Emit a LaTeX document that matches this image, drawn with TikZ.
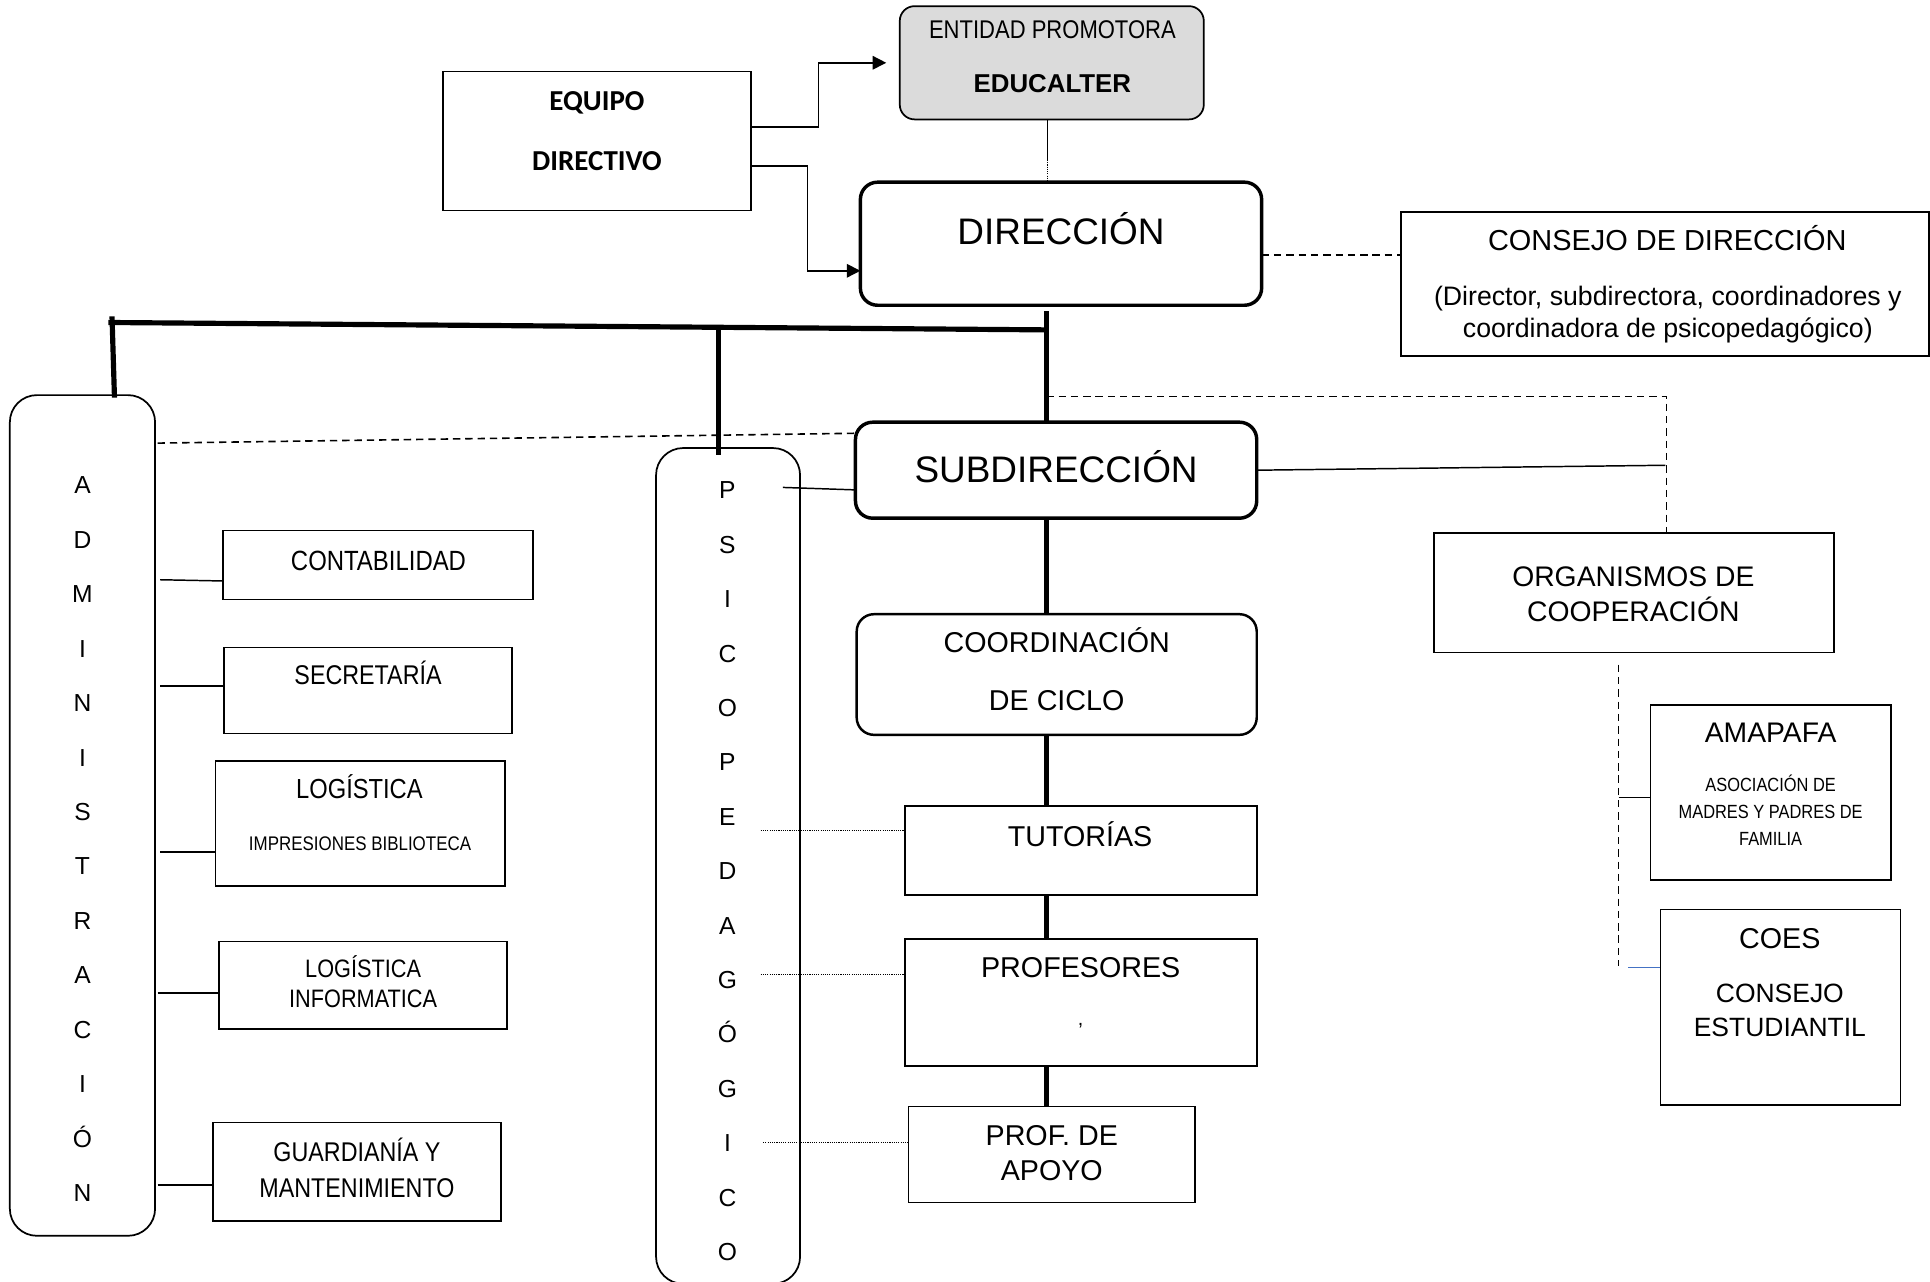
\documentclass[tikz,border=0pt]{standalone}
\usepackage{fontspec}
\setmainfont{Liberation Sans}
\newfontfamily\narfont[FakeStretch=0.86]{Liberation Sans}
\newfontfamily\calfont{Carlito}
\usetikzlibrary{arrows.meta,calc}
\newcommand\fsz[1]{\fontsize{#1}{#1}\selectfont}
\definecolor{blueline}{HTML}{4472C4}
\begin{document}
\begin{tikzpicture}[x=1pt,y=-1pt,
 box/.style={draw,line width=1.4pt,inner sep=0pt,outer sep=0pt},
 rbox/.style={box,rounded corners=#1},
 thickbox/.style={draw,line width=2.8pt,rounded corners=14pt,inner sep=0pt,outer sep=0pt},
 txt/.style={inner sep=0pt,outer sep=0pt,anchor=base},
 link/.style={line width=1.2pt},
 bus/.style={line width=4.2pt},
 dline/.style={line width=1.3pt,dash pattern=on 6pt off 4pt},
 dotline/.style={line width=1pt,dash pattern=on 0.9pt off 0.9pt},
 arr/.style={line width=1.2pt,-{Triangle[length=11pt,width=11pt]}}
]
\useasboundingbox (0,0) rectangle (1568,1041);

% ---------- boxes ----------
\node[box,minimum width=250pt,minimum height=113pt] (equipo) at (485,114.5) {};
\node[rbox=12pt,fill=gray!28,minimum width=247pt,minimum height=92pt] (entidad) at (854.5,51) {};
\node[thickbox,minimum width=326pt,minimum height=100pt] (direccion) at (862,198) {};
\node[box,minimum width=429pt,minimum height=117pt] (consejo) at (1352.5,230.5) {};
\node[rbox=22pt,minimum width=118pt,minimum height=683pt] (admin) at (67,662.5) {};
\node[rbox=22pt,minimum width=117pt,minimum height=679pt] (psico) at (591.5,703.5) {};
\node[thickbox,minimum width=326pt,minimum height=78pt] (subdir) at (858,382) {};
\node[box,line width=2pt,rounded corners=14pt,minimum width=325pt,minimum height=98pt] (coord) at (858.5,548) {};
\node[box,minimum width=286pt,minimum height=72pt] (tut) at (878,691) {};
\node[box,minimum width=286pt,minimum height=103pt] (prof) at (878,814.5) {};
\node[box,minimum width=233pt,minimum height=78pt] (apoyo) at (854.5,938) {};
\node[box,minimum width=325pt,minimum height=97pt] (org) at (1327.5,481.5) {};
\node[box,minimum width=195pt,minimum height=142pt] (amapafa) at (1438.5,644) {};
\node[box,minimum width=195pt,minimum height=159pt] (coes) at (1446.5,818.5) {};
\node[box,minimum width=252pt,minimum height=56pt] (cont) at (307,459) {};
\node[box,minimum width=234pt,minimum height=70pt] (secr) at (299,561) {};
\node[box,minimum width=235pt,minimum height=102pt] (logA) at (292.5,669) {};
\node[box,minimum width=234pt,minimum height=71pt] (logB) at (295,800.5) {};
\node[box,minimum width=234pt,minimum height=80pt] (guard) at (290,952) {};

% ---------- texts ----------
\node[txt,font=\calfont\bfseries\fsz{23.5}] (equipoT1) at (485,89.6) {EQUIPO};
\node[txt,font=\calfont\bfseries\fsz{23.5}] (equipoT2) at (485,138.6) {DIRECTIVO};
\node[txt,font=\narfont\fsz{20.8}] (entidadT1) at (855,31.3) {ENTIDAD PROMOTORA};
\node[txt,font=\bfseries\fsz{21}] (entidadT2) at (855,75.5) {EDUCALTER};
\node[txt,font=\fsz{30}] (direccionT) at (862,199) {DIRECCIÓN};
\node[txt,font=\fsz{23.5}] (consejoT1) at (1354.5,203.4) {CONSEJO DE DIRECCIÓN};
\node[txt,font=\fsz{21.7}] (consejoT2) at (1355,248.5) {(Director, subdirectora, coordinadores y};
\node[txt,font=\fsz{21.7}] (consejoT3) at (1355,274.5) {coordinadora de psicopedagógico)};
\node[txt,font=\fsz{30}] (subdirT) at (858,391.7) {SUBDIRECCIÓN};
\node[txt,font=\fsz{23.3}] (coordT1) at (858.5,530.4) {COORDINACIÓN};
\node[txt,font=\fsz{23.3}] (coordT2) at (858.5,577.4) {DE CICLO};
\node[txt,font=\fsz{23.3}] (tutT) at (877.5,687.4) {TUTORÍAS};
\node[txt,font=\fsz{23.3}] (profT) at (878,794.4) {PROFESORES};
\node[txt,font=\fsz{16}] (profC) at (878,833) {,};
\node[txt,font=\fsz{23.3}] (apoyoT1) at (854.5,930.4) {PROF. DE};
\node[txt,font=\fsz{23.3}] (apoyoT2) at (854.5,959.4) {APOYO};
\node[txt,font=\fsz{23}] (orgT1) at (1327,476.2) {ORGANISMOS DE};
\node[txt,font=\fsz{23}] (orgT2) at (1327,505.2) {COOPERACIÓN};
\node[txt,font=\fsz{23}] (amaT1) at (1438.5,603.2) {AMAPAFA};
\node[txt,font=\narfont\fsz{15.5}] (amaT2) at (1438.5,643) {ASOCIACIÓN DE};
\node[txt,font=\narfont\fsz{15.5}] (amaT3) at (1438.5,665) {MADRES Y PADRES DE};
\node[txt,font=\narfont\fsz{15.5}] (amaT4) at (1438.5,687) {FAMILIA};
\node[txt,font=\fsz{23.3}] (coesT1) at (1446,770.3) {COES};
\node[txt,font=\fsz{21.5}] (coesT2) at (1446,814.7) {CONSEJO};
\node[txt,font=\fsz{21.5}] (coesT3) at (1446,841.7) {ESTUDIANTIL};
\node[txt,font=\narfont\fsz{22.6}] (contT) at (307.5,463.1) {CONTABILIDAD};
\node[txt,font=\narfont\fsz{22}] (secrT) at (299,555.9) {SECRETARÍA};
\node[txt,font=\narfont\fsz{22.4}] (logAT1) at (292,649) {LOGÍSTICA};
\node[txt,font=\narfont\fsz{16}] (logAT2) at (292.5,690.7) {IMPRESIONES BIBLIOTECA};
\node[txt,font=\narfont\fsz{20.5}] (logBT1) at (295,794.3) {LOGÍSTICA};
\node[txt,font=\narfont\fsz{20.5}] (logBT2) at (295,818.3) {INFORMATICA};
\node[txt,font=\narfont\fsz{22}] (guardT1) at (290,943.9) {GUARDIANÍA Y};
\node[txt,font=\narfont\fsz{22}] (guardT2) at (290,972.9) {MANTENIMIENTO};

\foreach \l [count=\i from 0] in {A,D,M,I,N,I,S,T,R,A,C,I,Ó,N}
  \node[txt,font=\fsz{20}] (adm\i) at (67,{401.2+44.23*\i}) {\l};
\foreach \l [count=\i from 0] in {P,S,I,C,O,P,E,D,A,G,Ó,G,I,C,O}
  \node[txt,font=\fsz{20}] (psi\i) at (591,{405.2+44.21*\i}) {\l};

% ---------- connectors ----------
\coordinate (e1) at ([yshift=11.5pt]equipo.east);
\draw[arr] (e1) -- ++(55,0) |- ([xshift=-11pt]entidad.west);
\coordinate (e2) at ([yshift=-20.5pt]equipo.east);
\draw[arr] (e2) -- ++(46,0) |- ([yshift=-22pt]direccion.west);

\coordinate (ed1) at (851,130);
\draw[line width=0.8pt] (entidad.south -| ed1) -- (ed1);
\draw[dotline,line width=0.8pt] (ed1) -- (direccion.north -| ed1);

\coordinate (dc) at ([yshift=-9pt]direccion.east);
\draw[dline] (dc) -- (dc -| consejo.west);

% main bus
\coordinate (busL) at (88,262);
\coordinate (busR) at (850,268);
\draw[bus] (busL) -- (busR);
\coordinate (admTop) at (91,257);
\coordinate (admS) at (93,323);
\draw[bus] (admTop) -- (admS);
\coordinate (psT) at (584,266);
\coordinate (psB) at (584,370);
\draw[bus] (psT) -- (psB);
\coordinate (spx) at (850,0);
\coordinate (dirB) at (850,253);
\draw[bus] (dirB) -- (subdir.north -| spx);
\draw[bus] (subdir.south -| spx) -- (coord.north -| spx);
\draw[bus] (coord.south -| spx) -- (tut.north -| spx);
\draw[bus] (tut.south -| spx) -- (prof.north -| spx);
\draw[bus] (prof.south -| spx) -- (apoyo.north -| spx);

% admin dashed to subdireccion
\coordinate (ad) at (128,360);
\draw[dline] (ad) -- ([yshift=30pt]subdir.west);
% psico to subdireccion
\coordinate (pp) at (636,396);
\draw[link] (pp) -- ([yshift=-16pt]subdir.west);
% subdireccion to organismos
\coordinate (oj) at (1353,378);
\draw[link] (subdir.east) -- (oj);
\coordinate (sp1) at (850,322);
\coordinate (sp2) at (1354,322);
\draw[dline] (sp1) -- (sp2) -- (sp2 |- org.north);
% organismos children
\coordinate (ov1) at (1315,540);
\coordinate (ov2) at (1315,785);
\draw[dline] (ov1) -- (ov2);
\coordinate (ova) at (1315,648);
\draw[link] (ova) -- (ova -| amapafa.west);
\coordinate (ovc) at (1323,786);
\draw[link,blueline] (ovc) -- (ovc -| coes.west);

% psico dotted
\coordinate (pd1) at (618,675);
\coordinate (pd2) at (618,792);
\coordinate (pd3) at (620,928);
\draw[dotline] (pd1) -- (pd1 -| tut.west);
\draw[dotline] (pd2) -- (pd2 -| prof.west);
\draw[dotline] (pd3) -- (pd3 -| apoyo.west);

% admin children
\coordinate (ac1) at (130,471);
\draw[link] (ac1) -- ([yshift=-13pt]cont.west);
\coordinate (ac2) at (130,557);
\draw[line width=1.6pt] (ac2) -- (ac2 -| secr.west);
\coordinate (ac3) at (130,692);
\draw[line width=1.6pt] (ac3) -- (ac3 -| logA.west);
\coordinate (ac4) at (128,807);
\draw[line width=1.6pt] (ac4) -- (ac4 -| logB.west);
\coordinate (ac5) at (128,963);
\draw[line width=1.6pt] (ac5) -- (ac5 -| guard.west);
\end{tikzpicture}
\end{document}
